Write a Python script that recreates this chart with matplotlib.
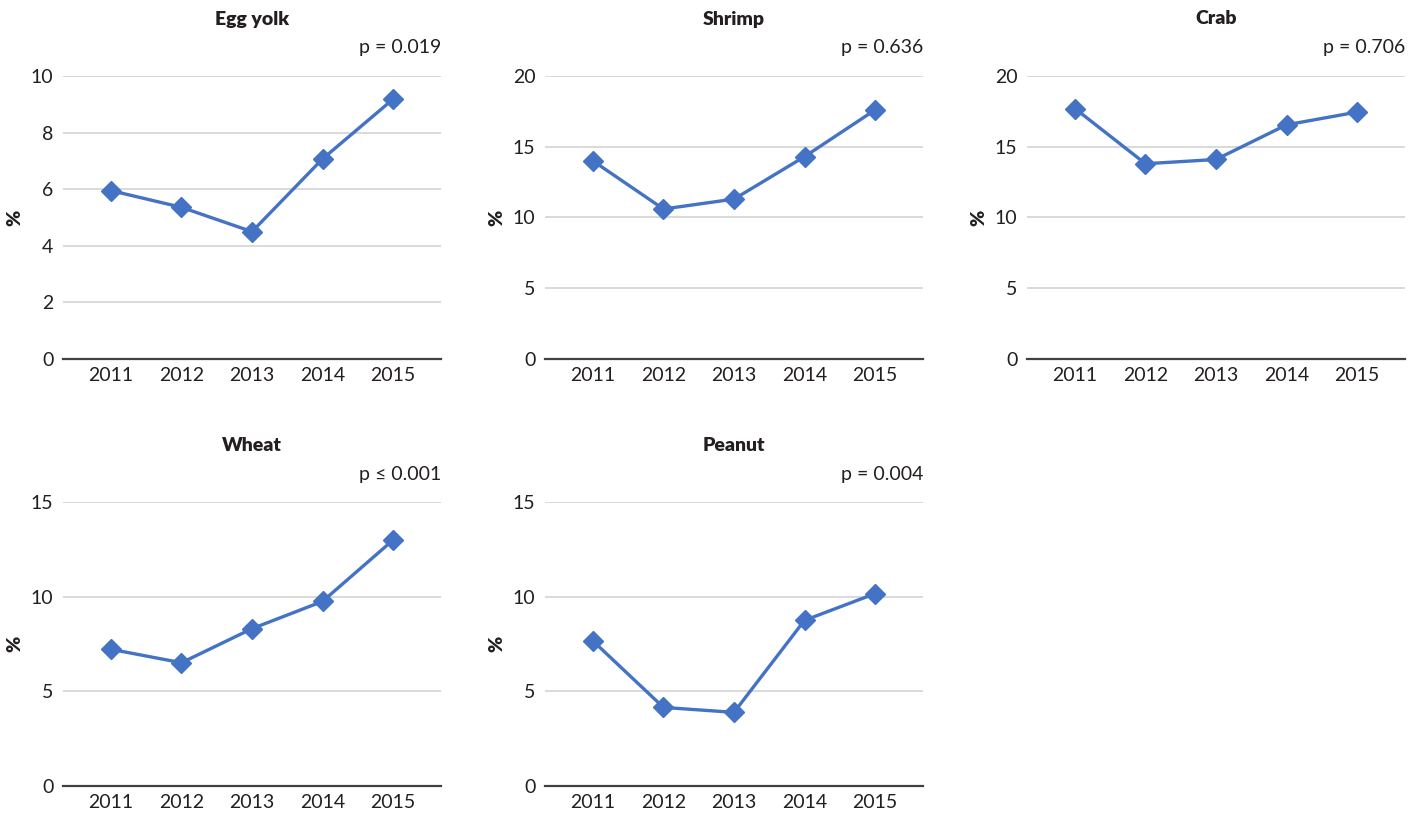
import matplotlib
matplotlib.use("Agg")
import matplotlib.pyplot as plt

years = ["2011", "2012", "2013", "2014", "2015"]

titles = ["Egg yolk", "Shrimp", "Crab", "Wheat", "Peanut"]
p_labels = ["p = 0.019", "p = 0.636", "p = 0.706", "p \u2264 0.001", "p = 0.004"]

egg_yolk = [5.95, 5.36, 4.5, 7.07, 9.18]
shrimp = [14.0, 10.6, 11.3, 14.3, 17.6]
crab = [17.7, 13.8, 14.1, 16.55, 17.45]
wheat = [7.22, 6.51, 8.31, 9.75, 12.99]
peanut = [7.66, 4.15, 3.89, 8.75, 10.16]

y_max = [10, 20, 20, 15, 15]
y_step = [2, 5, 5, 5, 5]

series = [egg_yolk, shrimp, crab, wheat, peanut]

plt.rcParams['font.family'] = ['Lato', 'DejaVu Sans']
TEXT = '#231f20'
BLUE = '#4472C4'

W, H = 1419, 814
fig = plt.figure(figsize=(W / 100, H / 100), dpi=100)

lefts = [63, 545, 1027, 63, 545]
rows = [(76, 359), (76, 359), (76, 359), (502, 786), (502, 786)]
pw = 378

for i in range(5):
    top, bot = rows[i]
    ph = bot - top
    ax = fig.add_axes([lefts[i] / W, 1 - bot / H, pw / W, ph / H])
    x = list(range(len(years)))
    ax.plot(x, series[i], color=BLUE, lw=2.4, marker='D', ms=10.5,
            markerfacecolor=BLUE, markeredgecolor=BLUE, clip_on=False, zorder=3)
    ax.set_xlim(-0.68, 4.68)
    ax.set_ylim(0, y_max[i])
    ticks = list(range(0, y_max[i] + 1, y_step[i]))
    ax.set_yticks(ticks)
    ax.set_yticklabels([str(t) for t in ticks])
    ax.set_xticks(x)
    ax.set_xticklabels(years)
    for t in ticks[1:]:
        ax.axhline(t, color='#d9d9d9', lw=1.4, zorder=1)
    for s in ['top', 'right', 'left']:
        ax.spines[s].set_visible(False)
    ax.spines['bottom'].set_color('#404040')
    ax.spines['bottom'].set_linewidth(1.6)
    ax.tick_params(axis='both', length=0, labelsize=14, colors=TEXT)
    ax.tick_params(axis='y', pad=7)
    ax.tick_params(axis='x', pad=6)
    ax.set_ylabel('%', fontsize=14, fontweight='heavy', color=TEXT)
    ax.yaxis.set_label_coords(-40 / pw, 0.5)
    ax.text(0.5, 1.0 + 57 / ph, titles[i], transform=ax.transAxes,
            ha='center', va='center', fontsize=14, fontweight='heavy', color=TEXT)
    ax.text(1.0, 1.0 + 28 / ph, p_labels[i], transform=ax.transAxes,
            ha='right', va='center', fontsize=14, color=TEXT)

fig.savefig('out.png', dpi=100, facecolor='white')
